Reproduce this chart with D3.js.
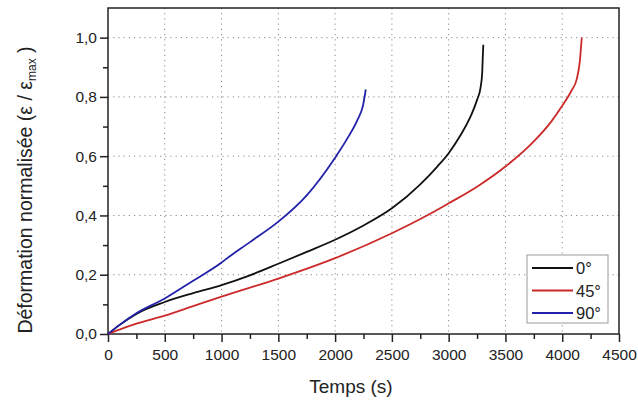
<!DOCTYPE html>
<html><head><meta charset="utf-8">
<script src="https://cdn.jsdelivr.net/npm/d3@7"></script>
<style>body{margin:0;background:#fff;} text{font-family:"Liberation Sans",Arial,sans-serif;}</style>
</head><body><svg id="c" width="638" height="401"></svg>
<script>
const seriesNames = ["0°", "45°", "90°"];
const seriesColors = ["#111111", "#cc2a2a", "#2222aa"];
const t0 = [0,100,250,500,750,1000,1250,1500,1750,2000,2250,2500,2750,2900,3000,3100,3200,3250,3280,3295,3300,3305];
const v0 = [0,0.03,0.068,0.108,0.138,0.165,0.198,0.237,0.277,0.318,0.366,0.424,0.505,0.565,0.61,0.668,0.74,0.79,0.83,0.88,0.93,0.976];
const t45 = [0,100,250,500,750,1000,1500,2000,2500,2800,3000,3250,3500,3750,3900,4000,4080,4128,4155,4172];
const v45 = [0,0.015,0.035,0.062,0.094,0.126,0.187,0.256,0.34,0.398,0.441,0.497,0.565,0.65,0.715,0.77,0.82,0.86,0.92,1.0];
const t90 = [0,100,250,500,750,1000,1030,1250,1500,1750,2000,2100,2200,2245,2270];
const v90 = [0,0.03,0.07,0.12,0.18,0.241,0.25,0.31,0.379,0.468,0.595,0.655,0.725,0.77,0.825];
const xTicks = [0,500,1000,1500,2000,2500,3000,3500,4000,4500];
const yTicks = [0,0.2,0.4,0.6,0.8,1.0];
const yTickLabels = ["0,0","0,2","0,4","0,6","0,8","1,0"];

const svg = d3.select("#c");
const L=108,R=619,T=8,B=334;
const x = d3.scaleLinear().domain([0,4500]).range([L,R]);
const y = d3.scaleLinear().domain([0,1.1]).range([B,T]);

// grid
const g = svg.append("g");
g.selectAll("line.gx").data(xTicks.slice(1,-1)).enter().append("line")
 .attr("x1",d=>x(d)).attr("x2",d=>x(d)).attr("y1",T).attr("y2",B)
 .attr("stroke","#888").attr("stroke-width",1).attr("stroke-dasharray","1.2,4");
g.selectAll("line.gy").data(yTicks.slice(1)).enter().append("line")
 .attr("y1",d=>y(d)).attr("y2",d=>y(d)).attr("x1",L).attr("x2",R)
 .attr("stroke","#888").attr("stroke-width",1).attr("stroke-dasharray","1.2,4");

// frame
svg.append("rect").attr("x",L).attr("y",T).attr("width",R-L).attr("height",B-T)
 .attr("fill","none").attr("stroke","#222").attr("stroke-width",1.5);

// axes
const xMinor = d3.range(250,4500,500);
svg.append("g").attr("transform",`translate(0,${B})`)
 .call(d3.axisBottom(x).tickValues(xTicks).tickFormat(d3.format("d")).tickSize(8).tickPadding(7));
svg.append("g").attr("transform",`translate(0,${B})`)
 .call(d3.axisBottom(x).tickValues(xMinor).tickFormat("").tickSize(5));
svg.append("g").attr("transform",`translate(${L},0)`)
 .call(d3.axisLeft(y).tickValues(yTicks).tickFormat((d,i)=>yTickLabels[i]).tickSize(8).tickPadding(3));
svg.append("g").attr("transform",`translate(${L},0)`)
 .call(d3.axisLeft(y).tickValues([0.1,0.3,0.5,0.7,0.9]).tickFormat("").tickSize(5));
svg.selectAll(".domain").remove();
svg.selectAll(".tick line").attr("stroke","#222").attr("stroke-width",1.5);
svg.selectAll(".tick text").attr("fill","#222").style("font-size","15.5px");

// lines
const data = [[t0,v0],[t45,v45],[t90,v90]];
const line = d3.line().x(d=>x(d[0])).y(d=>y(d[1])).curve(d3.curveMonotoneX);
data.forEach((s,i)=>{
  const pts = s[0].map((t,j)=>[t,s[1][j]]);
  svg.append("path").datum(pts).attr("d",line).attr("fill","none")
   .attr("stroke",seriesColors[i]).attr("stroke-width",1.8);
});

// legend
const lg = svg.append("g");
lg.append("rect").attr("x",527).attr("y",255).attr("width",81).attr("height",68)
 .attr("fill","#fff").attr("stroke","#999").attr("stroke-width",1);
seriesNames.forEach((n,i)=>{
  const yy = 268 + i*22.5;
  lg.append("line").attr("x1",532).attr("x2",573).attr("y1",yy).attr("y2",yy)
   .attr("stroke",seriesColors[i]).attr("stroke-width",1.8);
  lg.append("text").attr("x",576).attr("y",yy+6).text(n).style("font-size","16.5px").attr("fill","#222");
});

// titles
svg.append("text").attr("x",351).attr("y",393).attr("text-anchor","middle")
 .style("font-size","19px").attr("fill","#222").text("Temps (s)");
const yt = svg.append("text").attr("transform","translate(32,190) rotate(-90)")
 .attr("text-anchor","middle").style("font-size","19.5px").attr("fill","#222");
yt.append("tspan").text("Déformation normalisée (ε / ε");
yt.append("tspan").attr("dy",4).style("font-size","12px").text("max");
yt.append("tspan").attr("dy",-4).text(" )");
</script></body></html>
